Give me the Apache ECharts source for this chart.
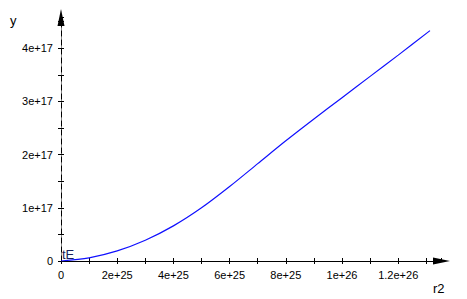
<!DOCTYPE html>
<html>
<head>
<meta charset="utf-8">
<script src="https://cdn.jsdelivr.net/npm/echarts@6/dist/echarts.min.js"></script>
<style>html,body{margin:0;padding:0;background:#fff;}#c{width:467px;height:299px;}</style>
</head>
<body>
<div id="c"></div>
<script>
// Data
const r2Values = [0, 1e25, 2e25, 3e25, 4e25, 5e25, 6e25, 7e25, 8e25, 9e25, 10e25, 11e25, 12e25, 13.13e25];
const yValues  = [0, 0.06e17, 0.19e17, 0.39e17, 0.66e17, 1.00e17, 1.40e17, 1.83e17, 2.26e17, 2.67e17, 3.07e17, 3.47e17, 3.87e17, 4.33e17];
const xAxisName = 'r2';
const yAxisName = 'y';
const cornerLabel = 'tE';

function sci(v) {
  if (v === 0) return '0';
  const e = Math.floor(Math.log10(v) + 1e-9);
  const m = Math.round(v / Math.pow(10, e) * 1e6) / 1e6;
  return m + 'e+' + e;
}
function xLabel(v) {
  const k = Math.round(v / 1e25);
  if (Math.abs(v / 1e25 - k) > 1e-6 || k % 2 !== 0 || k > 12) return '';
  return sci(k * 1e25);
}
function yLabel(v) {
  const k = Math.round(v / 0.5e17);
  if (Math.abs(v / 0.5e17 - k) > 1e-6 || k % 2 !== 0 || k > 8) return '';
  return sci(k / 2 * 1e17);
}

const XMAX = 13.54e25, YMAX = 4.577e17;
const font = { fontFamily: 'Liberation Sans, Arial, sans-serif', fontSize: 11, color: '#000' };

const chart = echarts.init(document.getElementById('c'), null, { renderer: 'svg' });
const xBase = { type: 'value', min: 0, max: XMAX, interval: 1e25, position: 'bottom', splitLine: { show: false } };
const yBase = { type: 'value', min: 0, max: YMAX, interval: 0.5e17, position: 'left', splitLine: { show: false } };
chart.setOption({
  animation: false,
  backgroundColor: '#fff',
  grid: { left: 61, top: 17.5, width: 380.5, height: 243.5, containLabel: false },
  xAxis: [
    Object.assign({}, xBase, {
      axisLine: { show: true, lineStyle: { color: '#000', width: 1 }, symbol: ['none', 'triangle'], symbolSize: [7, 17] },
      axisTick: { show: true, inside: false, length: 3, lineStyle: { color: '#000' } },
      axisLabel: Object.assign({ formatter: xLabel, margin: 8, showMaxLabel: false }, font)
    }),
    Object.assign({}, xBase, {
      axisLine: { show: false },
      axisTick: { show: true, inside: true, length: 3, lineStyle: { color: '#000' } },
      axisLabel: { show: false }
    })
  ],
  yAxis: [
    Object.assign({}, yBase, {
      axisLine: { show: true, lineStyle: { color: '#888', width: 1 } },
      axisTick: { show: false },
      axisLabel: { show: false }
    }),
    Object.assign({}, yBase, {
      axisLine: { show: true, lineStyle: { color: '#000', width: 1, type: [5, 4] }, symbol: ['none', 'triangle'], symbolSize: [7, 17] },
      axisTick: { show: true, inside: false, length: 3, lineStyle: { color: '#000', type: 'solid' } },
      axisLabel: Object.assign({ formatter: yLabel, margin: 8, showMaxLabel: false }, font)
    }),
    Object.assign({}, yBase, {
      axisLine: { show: false },
      axisTick: { show: true, inside: true, length: 3, lineStyle: { color: '#000' } },
      axisLabel: { show: false }
    })
  ],
  series: [{
    type: 'line',
    xAxisIndex: 0,
    yAxisIndex: 0,
    data: r2Values.map((x, i) => [x, yValues[i]]),
    smooth: 0.3,
    showSymbol: false,
    lineStyle: { color: '#1010ff', width: 1.2 },
    z: 5
  }],
  graphic: [
    { type: 'text', left: 10, top: 14, style: { text: yAxisName, fontFamily: 'Liberation Sans, Arial, sans-serif', fontSize: 13, fill: '#000' } },
    { type: 'text', left: 433, top: 282, style: { text: xAxisName, fontFamily: 'Liberation Sans, Arial, sans-serif', fontSize: 13, fill: '#000' } },
    { type: 'text', left: 62, top: 248, style: { text: cornerLabel, fontFamily: 'Liberation Sans, Arial, sans-serif', fontSize: 13, fill: '#1a1f5a' } }
  ]
});
</script>
</body>
</html>
